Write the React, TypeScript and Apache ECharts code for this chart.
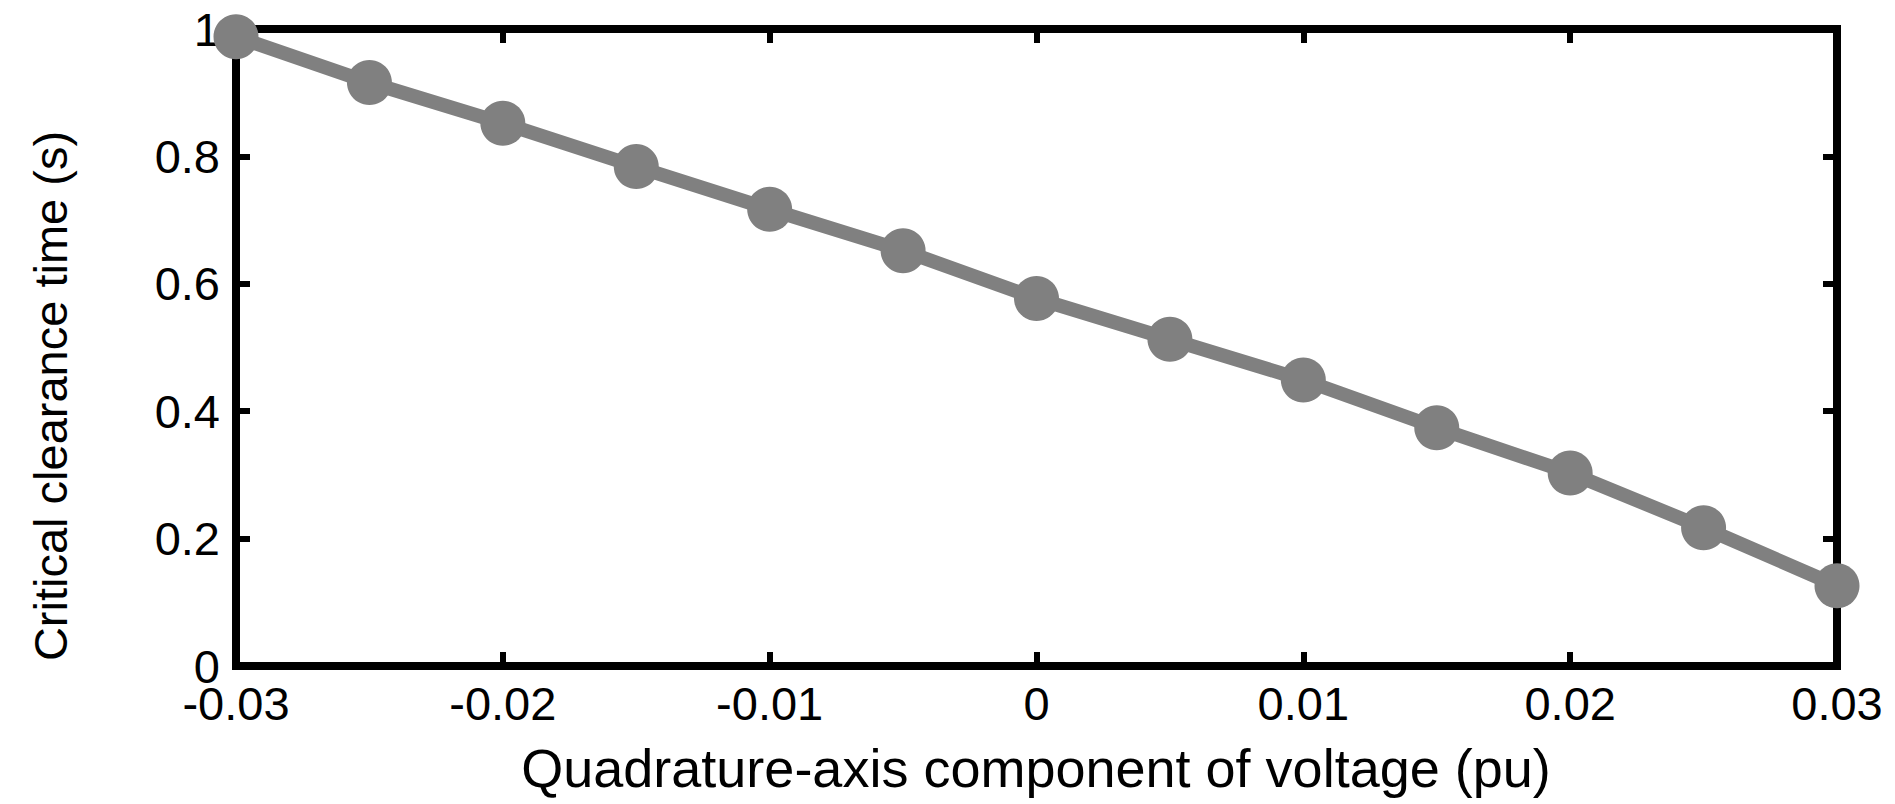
import React, { useEffect, useRef } from "react";
import * as echarts from "echarts";

const xValues = [-0.03, -0.025, -0.02, -0.015, -0.01, -0.005, 0, 0.005, 0.01, 0.015, 0.02, 0.025, 0.03];
const yValues = [0.988, 0.916, 0.852, 0.784, 0.717, 0.652, 0.577, 0.513, 0.449, 0.374, 0.303, 0.217, 0.126];
const xTickLabels = ["-0.03", "-0.02", "-0.01", "0", "0.01", "0.02", "0.03"];
const yTickLabels = ["0", "0.2", "0.4", "0.6", "0.8", "1"];
const xName = "Quadrature-axis component of voltage (pu)";
const yName = "Critical clearance time (s)";

const FONT = "'Liberation Sans', Arial, Helvetica, sans-serif";

export default function App() {
  const ref = useRef<HTMLDivElement>(null);
  useEffect(() => {
    if (!ref.current) return;
    const chart = echarts.init(ref.current, undefined, { renderer: "svg" });
    const xFmt = (v: number) => {
      const i = Math.round((v + 0.03) / 0.01);
      return xTickLabels[i] ?? "";
    };
    const yFmt = (v: number) => {
      const i = Math.round(v / 0.2);
      return yTickLabels[i] ?? "";
    };
    const axisLine = { show: true, onZero: false, lineStyle: { color: "#000", width: 8, cap: "square" } };
    const axisTick = { show: true, inside: true, length: 14, lineStyle: { color: "#000", width: 6 } };
    const baseX = {
      type: "value" as const,
      min: -0.03,
      max: 0.03,
      interval: 0.01,
      splitLine: { show: false },
      axisLine,
      axisTick,
    };
    const baseY = {
      type: "value" as const,
      min: 0,
      max: 1,
      interval: 0.2,
      splitLine: { show: false },
      axisLine,
      axisTick,
    };
    chart.setOption({
      animation: false,
      backgroundColor: "#fff",
      grid: { left: 236, right: 58, top: 29, bottom: 138, containLabel: false },
      xAxis: [
        {
          ...baseX,
          position: "bottom",
          axisLabel: { show: true, formatter: xFmt, color: "#000", fontSize: 47, fontFamily: FONT, margin: 14 },
        },
        { ...baseX, position: "top", axisLabel: { show: false } },
      ],
      yAxis: [
        {
          ...baseY,
          position: "left",
          axisLabel: { show: true, formatter: yFmt, color: "#000", fontSize: 47, fontFamily: FONT, margin: 16 },
        },
        { ...baseY, position: "right", axisLabel: { show: false } },
      ],
      graphic: [
        {
          type: "text",
          x: 1036,
          y: 768,
          style: {
            text: xName,
            fill: "#000",
            font: `54px ${FONT}`,
            textAlign: "center",
            textVerticalAlign: "middle",
          },
        },
        {
          type: "text",
          x: 50,
          y: 396,
          rotation: Math.PI / 2,
          style: {
            text: yName,
            fill: "#000",
            font: `47px ${FONT}`,
            textAlign: "center",
            textVerticalAlign: "middle",
          },
        },
      ],
      series: [
        {
          type: "line",
          xAxisIndex: 0,
          yAxisIndex: 0,
          data: xValues.map((x, i) => [x, yValues[i]]),
          clip: false,
          symbol: "circle",
          symbolSize: 45,
          lineStyle: { color: "#808080", width: 14 },
          itemStyle: { color: "#808080" },
          z: 5,
        },
      ],
    });
    return () => chart.dispose();
  }, []);
  return (
    <div
      ref={ref}
      style={{ position: "fixed", left: 0, top: 0, width: 1895, height: 804, background: "#fff" }}
    />
  );
}
